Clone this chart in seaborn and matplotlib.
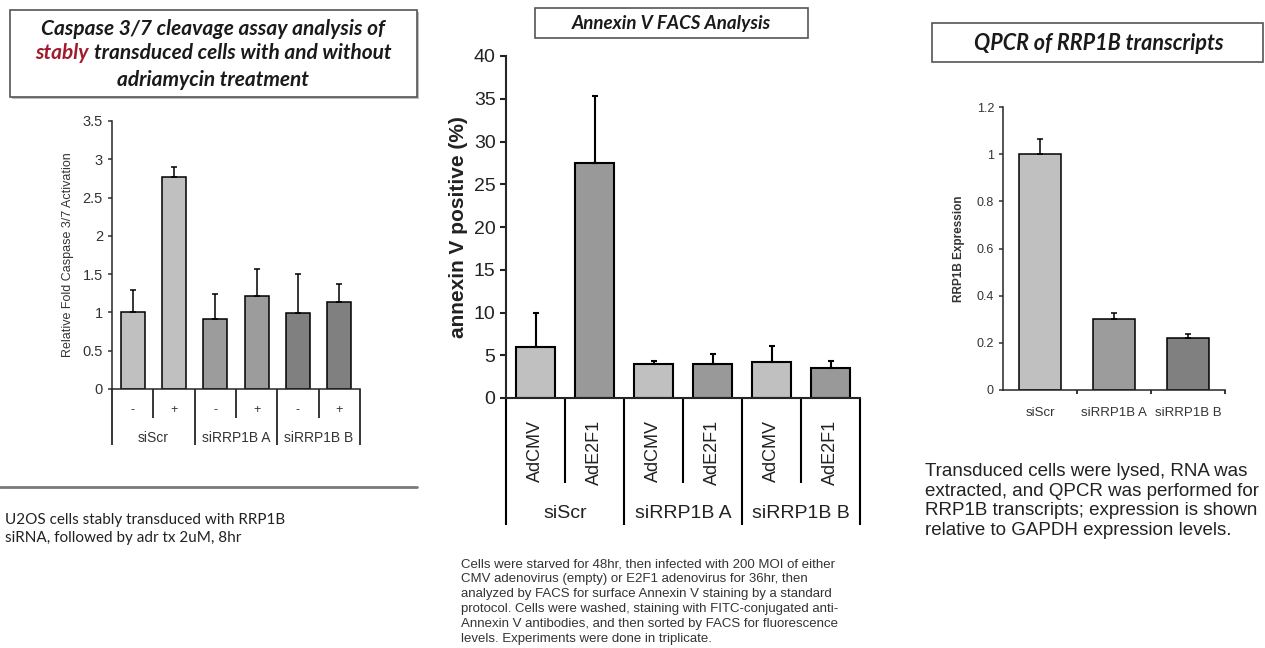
import numpy as np
import pandas as pd
import matplotlib
matplotlib.use("Agg")
import matplotlib.pyplot as plt
import seaborn as sns
from matplotlib.patches import Rectangle
from matplotlib.lines import Line2D

# 데이터
casp_groups = ["siScr", "siRRP1B A", "siRRP1B B"]
casp_adr = ["-", "+", "-", "+", "-", "+"]
casp_mean = [1.00, 2.77, 0.91, 1.21, 0.99, 1.14]
casp_err = [0.29, 0.13, 0.33, 0.36, 0.51, 0.23]

annex_groups = ["siScr", "siRRP1B A", "siRRP1B B"]
annex_virus = ["AdCMV", "AdE2F1", "AdCMV", "AdE2F1", "AdCMV", "AdE2F1"]
annex_mean = [6.0, 27.5, 4.0, 4.0, 4.2, 3.5]
annex_err = [3.9, 7.8, 0.3, 1.2, 1.9, 0.8]

qpcr_labels = ["siScr", "siRRP1B A", "siRRP1B B"]
qpcr_mean = [1.00, 0.30, 0.22]
qpcr_err = [0.065, 0.025, 0.017]

casp_colors = ["#c0c0c0", "#c0c0c0", "#9c9c9c", "#9c9c9c", "#808080", "#808080"]
annex_colors = ["#c0c0c0", "#999999"] * 3
qpcr_colors = ["#c0c0c0", "#9c9c9c", "#808080"]

sns.set_style("ticks")
plt.rcParams['font.family'] = ['Liberation Sans', 'DejaVu Sans']

W, H = 1265, 648
fig = plt.figure(figsize=(W / 100, H / 100), dpi=100)


def px_axes(left, top, right, bottom):
    return fig.add_axes([left / W, 1 - bottom / H, (right - left) / W, (bottom - top) / H])


def fx(x):
    return x / W


def fy(y):
    return 1 - y / H


def bars(ax, names, values, errs, colors, width, lw):
    df = pd.DataFrame({"cond": names, "value": values})
    sns.barplot(data=df, x="cond", y="value", hue="cond", order=names,
                palette=dict(zip(names, colors)), legend=False, width=width,
                edgecolor="black", linewidth=lw, saturation=1, ax=ax)
    n = len(values)
    ax.errorbar(np.arange(n), values, yerr=[np.zeros(n), errs], fmt="none",
                ecolor="black", elinewidth=lw, capsize=2.5, capthick=lw)
    ax.set_xlim(-0.5, n - 0.5)
    ax.set_xlabel("")
    sns.despine(ax=ax)


def separators(ax, n, h_px, long_px, short_px, lw):
    trans = ax.get_xaxis_transform()
    for i in range(n + 1):
        length = long_px if i % 2 == 0 else short_px
        ax.plot([i - 0.5, i - 0.5], [0, -length / h_px], transform=trans,
                color="black", lw=lw, clip_on=False, solid_capstyle="butt")


# ---------- 1. Caspase 3/7 ----------
ax1 = px_axes(112, 121, 360, 389)
casp_names = [f"{casp_groups[i // 2]} {casp_adr[i]}" for i in range(6)]
bars(ax1, casp_names, casp_mean, casp_err, casp_colors, 0.58, 1.1)
ax1.set_ylim(0, 3.5)
ax1.set_yticks(np.arange(0, 3.51, 0.5))
ax1.set_yticklabels(["0", "0.5", "1", "1.5", "2", "2.5", "3", "3.5"])
ax1.tick_params(axis="y", labelsize=10.5, length=3, width=1.1, colors="#333333")
ax1.tick_params(axis="x", length=0)
ax1.set_xticklabels([])
ax1.set_ylabel("Relative Fold Caspase 3/7 Activation", fontsize=9, color="#333333", labelpad=6)
for s in ax1.spines.values():
    s.set_linewidth(1.1)
separators(ax1, 6, 268, 56, 29, 1.1)
tr1 = ax1.get_xaxis_transform()
for i, a in enumerate(casp_adr):
    ax1.text(i, -21 / 268, a, transform=tr1, ha="center", va="center", fontsize=9, color="#333333")
for j, g in enumerate(casp_groups):
    ax1.text(2 * j + 0.5, -49 / 268, g, transform=tr1, ha="center", va="center", fontsize=10, color="#333333")

# ---------- 2. Annexin V ----------
ax2 = px_axes(506, 56, 860, 398)
annex_names = [f"{annex_groups[i // 2]} {annex_virus[i]}" for i in range(6)]
bars(ax2, annex_names, annex_mean, annex_err, annex_colors, 0.66, 1.5)
ax2.set_ylim(0, 40)
ax2.set_yticks(np.arange(0, 41, 5))
ax2.tick_params(axis="y", labelsize=14, length=4, width=1.5, colors="#222222")
ax2.tick_params(axis="x", length=0, pad=16, labelsize=13, colors="#222222")
ax2.set_xticks(range(6))
ax2.set_xticklabels(annex_virus, rotation=90, va="top")
ax2.set_ylabel("annexin V positive (%)", fontsize=15, fontweight="bold", color="#222222", labelpad=4)
for s in ax2.spines.values():
    s.set_linewidth(1.5)
separators(ax2, 6, 342, 127, 85, 1.5)
tr2 = ax2.get_xaxis_transform()
for j, g in enumerate(annex_groups):
    ax2.text(2 * j + 0.5, -115 / 342, g, transform=tr2, ha="center", va="center", fontsize=14, color="#222222")

# ---------- 3. QPCR ----------
ax3 = px_axes(1003, 107, 1225, 390)
bars(ax3, qpcr_labels, qpcr_mean, qpcr_err, qpcr_colors, 0.58, 1.1)
ax3.set_ylim(0, 1.2)
ax3.set_yticks(np.arange(0, 1.21, 0.2))
ax3.set_yticklabels(["0", "0.2", "0.4", "0.6", "0.8", "1", "1.2"])
ax3.set_xticks(np.arange(0.5, 3, 1), minor=True)
ax3.tick_params(axis="y", labelsize=9, length=3, width=1.1, colors="#333333")
ax3.tick_params(axis="x", which="major", length=0, pad=12, labelsize=9.5, colors="#333333")
ax3.tick_params(axis="x", which="minor", length=3, width=1.1, color="black")
ax3.set_ylabel("RRP1B Expression", fontsize=8.5, fontweight="bold", color="#333333", labelpad=8)
for s in ax3.spines.values():
    s.set_linewidth(1.1)


# ---------- 제목 박스 ----------
def title_box(left, top, right, bottom, shadow=False):
    if shadow:
        fig.add_artist(Rectangle((fx(left + 2), fy(bottom + 2)), fx(right - left), (bottom - top) / H,
                                 transform=fig.transFigure, facecolor="#bdbdbd", edgecolor="none"))
    fig.add_artist(Rectangle((fx(left), fy(bottom)), fx(right - left), (bottom - top) / H,
                             transform=fig.transFigure, facecolor="white", edgecolor="#555555", lw=1.2))


title_font = dict(family=["Lato", "DejaVu Sans"], fontweight="bold", fontstyle="italic", color="#1a1a1a")

title_box(10, 10, 417, 97, shadow=True)
fig.text(fx(213), fy(29), "Caspase 3/7 cleavage assay analysis of", ha="center", va="center", fontsize=15, **title_font)
t_a = fig.text(0, fy(53), "stably", ha="left", va="center", fontsize=15,
               **{**title_font, "color": "#a01c2c"})
t_b = fig.text(0, fy(53), "transduced cells with and without", ha="left", va="center", fontsize=15, **title_font)
fig.text(fx(213), fy(80), "adriamycin treatment", ha="center", va="center", fontsize=15, **title_font)
fig.canvas.draw()
r = fig.canvas.get_renderer()
wa = t_a.get_window_extent(r).width
wb = t_b.get_window_extent(r).width
gap = 5
x0 = 213 - (wa + gap + wb) / 2
t_a.set_x(fx(x0))
t_b.set_x(fx(x0 + wa + gap))

title_box(535, 8, 808, 38)
fig.text(fx(671), fy(23), "Annexin V FACS Analysis", ha="center", va="center", fontsize=13.5, **title_font)

title_box(932, 23, 1263, 62)
fig.text(fx(1099), fy(43), "QPCR of RRP1B transcripts", ha="center", va="center", fontsize=15.5, **title_font)

# ---------- 설명 텍스트 ----------
fig.add_artist(Line2D([0, fx(417)], [fy(487), fy(487)], transform=fig.transFigure, color="#7a7a7a", lw=2))
fig.text(fx(5), fy(529), "U2OS cells stably transduced with RRP1B\nsiRNA, followed by adr tx 2uM, 8hr",
         ha="left", va="center", fontsize=11, family=["Lato", "DejaVu Sans"], color="#222222",
         linespacing=1.4)

fig.text(fx(461), fy(601.5),
         "Cells were starved for 48hr, then infected with 200 MOI of either\n"
         "CMV adenovirus (empty) or E2F1 adenovirus for 36hr, then\n"
         "analyzed by FACS for surface Annexin V staining by a standard\n"
         "protocol. Cells were washed, staining with FITC-conjugated anti-\n"
         "Annexin V antibodies, and then sorted by FACS for fluorescence\n"
         "levels. Experiments were done in triplicate.",
         ha="left", va="center", fontsize=9.5, color="#333333", linespacing=1.32)

fig.text(fx(925), fy(501),
         "Transduced cells were lysed, RNA was\n"
         "extracted, and QPCR was performed for\n"
         "RRP1B transcripts; expression is shown\n"
         "relative to GAPDH expression levels.",
         ha="left", va="center", fontsize=13.5, color="#222222", linespacing=1.22)

fig.savefig("out.png", dpi=100)
